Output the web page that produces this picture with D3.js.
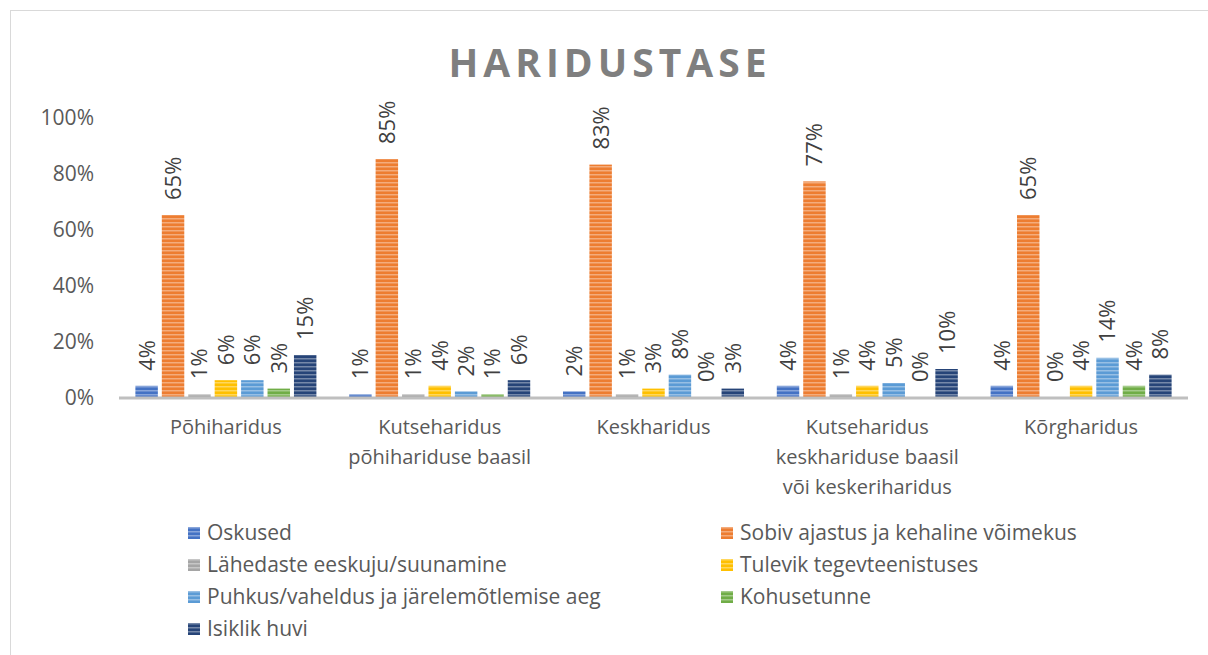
<!DOCTYPE html>
<html>
<head>
<meta charset="utf-8">
<script src="https://cdn.jsdelivr.net/npm/d3@7/dist/d3.min.js"></script>
<style>
  body { margin: 0; background: #fff; }
  svg text { font-family: "Open Sans", sans-serif; }
</style>
</head>
<body>
<svg width="1208" height="655"></svg>
<script>
// chart data
var categories = [
  ["Põhiharidus"],
  ["Kutseharidus", "põhihariduse baasil"],
  ["Keskharidus"],
  ["Kutseharidus", "keskhariduse baasil", "või keskeriharidus"],
  ["Kõrgharidus"]
];
var seriesNames = [
  "Oskused",
  "Sobiv ajastus ja kehaline võimekus",
  "Lähedaste eeskuju/suunamine",
  "Tulevik tegevteenistuses",
  "Puhkus/vaheldus ja järelemõtlemise aeg",
  "Kohusetunne",
  "Isiklik huvi"
];
var oskused   = [4, 1, 2, 4, 4];
var sobiv     = [65, 85, 83, 77, 65];
var lahedaste = [1, 1, 1, 1, 0];
var tulevik   = [6, 4, 3, 4, 4];
var puhkus    = [6, 2, 8, 5, 14];
var kohus     = [3, 1, 0, 0, 4];
var huvi      = [15, 6, 3, 10, 8];
var yTicks = [0, 20, 40, 60, 80, 100];

var seriesValues = [oskused, sobiv, lahedaste, tulevik, puhkus, kohus, huvi];
var colors = ["#4472C4", "#ED7D31", "#A5A5A5", "#FFC000", "#5B9BD5", "#70AD47", "#264478"];

var svg = d3.select("svg");

// outer frame
svg.append("rect")
  .attr("x", 10.5).attr("y", 10.5)
  .attr("width", 1210).attr("height", 660)
  .attr("fill", "none").attr("stroke", "#d9d9d9");

// striped patterns for bars
var defs = svg.append("defs");
colors.forEach(function (c, i) {
  var p = defs.append("pattern")
    .attr("id", "stripe" + i)
    .attr("patternUnits", "userSpaceOnUse")
    .attr("width", 8).attr("height", 4);
  p.append("rect").attr("width", 8).attr("height", 4).attr("fill", c);
  p.append("rect").attr("y", 2.2).attr("width", 8).attr("height", 1.2)
    .attr("fill", "#fff").attr("opacity", 0.45);
});

// title
svg.append("text")
  .attr("x", 610).attr("y", 77)
  .attr("text-anchor", "middle")
  .attr("fill", "#7f7f7f")
  .style("font-size", "39px")
  .style("font-weight", "bold")
  .style("letter-spacing", "5px")
  .text("HARIDUSTASE");

var plotLeft = 119, plotRight = 1188, plotTop = 117, plotBottom = 397;

var x0 = d3.scaleBand().domain(d3.range(categories.length)).range([plotLeft, plotRight]);
var x1 = d3.scaleBand().domain(d3.range(seriesNames.length))
  .range([0, x0.bandwidth()]).paddingInner(0.15).paddingOuter(0.62);
var y = d3.scaleLinear().domain([0, 100]).range([plotBottom, plotTop]);

// y axis labels
svg.append("g")
  .attr("transform", "translate(" + (plotLeft - 22) + ",0)")
  .call(d3.axisLeft(y).tickValues(yTicks).tickSize(0).tickFormat(function (d) { return d + "%"; }))
  .call(function (g) {
    g.select(".domain").remove();
    g.selectAll("text")
      .attr("fill", "#595959")
      .style("font-size", "21px")
      .style("font-family", "'Open Sans', sans-serif")
      .attr("dy", "0.35em");
  });

// bars
var groups = svg.append("g").selectAll("g")
  .data(categories)
  .join("g")
  .attr("transform", function (d, i) { return "translate(" + x0(i) + ",0)"; });

groups.each(function (cat, ci) {
  var g = d3.select(this);
  var vals = seriesValues.map(function (s, si) { return { si: si, v: s[ci] }; });
  g.selectAll("rect")
    .data(vals)
    .join("rect")
    .attr("x", function (d) { return x1(d.si); })
    .attr("y", function (d) { return y(d.v); })
    .attr("width", x1.bandwidth())
    .attr("height", function (d) { return plotBottom - y(d.v); })
    .attr("fill", function (d) { return "url(#stripe" + d.si + ")"; });
  g.selectAll("text.lbl")
    .data(vals)
    .join("text")
    .attr("class", "lbl")
    .attr("transform", function (d) {
      return "translate(" + (x1(d.si) + x1.bandwidth() / 2) + "," + (y(d.v) - 15) + ") rotate(-90)";
    })
    .attr("dy", "0.36em")
    .attr("fill", "#404040")
    .style("font-size", "22px")
    .text(function (d) { return d.v + "%"; });
});

// x axis line
svg.append("line")
  .attr("x1", plotLeft).attr("x2", plotRight)
  .attr("y1", plotBottom + 1).attr("y2", plotBottom + 1)
  .attr("stroke", "#bfbfbf").attr("stroke-width", 3);

// category labels
categories.forEach(function (lines, i) {
  var t = svg.append("text")
    .attr("x", x0(i) + x0.bandwidth() / 2)
    .attr("y", 434)
    .attr("text-anchor", "middle")
    .attr("fill", "#595959")
    .style("font-size", "20px");
  lines.forEach(function (l, k) {
    t.append("tspan")
      .attr("x", x0(i) + x0.bandwidth() / 2)
      .attr("dy", k === 0 ? 0 : 30)
      .text(l);
  });
});

// legend
var legend = svg.append("g").selectAll("g")
  .data(seriesNames)
  .join("g")
  .attr("transform", function (d, i) {
    var col = i % 2, row = Math.floor(i / 2);
    return "translate(" + (col === 0 ? 188 : 721) + "," + (533 + row * 32) + ")";
  });
legend.append("rect")
  .attr("x", 0).attr("y", -6)
  .attr("width", 12).attr("height", 12)
  .attr("fill", function (d, i) { return "url(#stripe" + i + ")"; });
legend.append("text")
  .attr("x", 19).attr("dy", "0.35em")
  .attr("fill", "#595959")
  .style("font-size", "21px")
  .text(function (d) { return d; });
</script>
</body>
</html>
